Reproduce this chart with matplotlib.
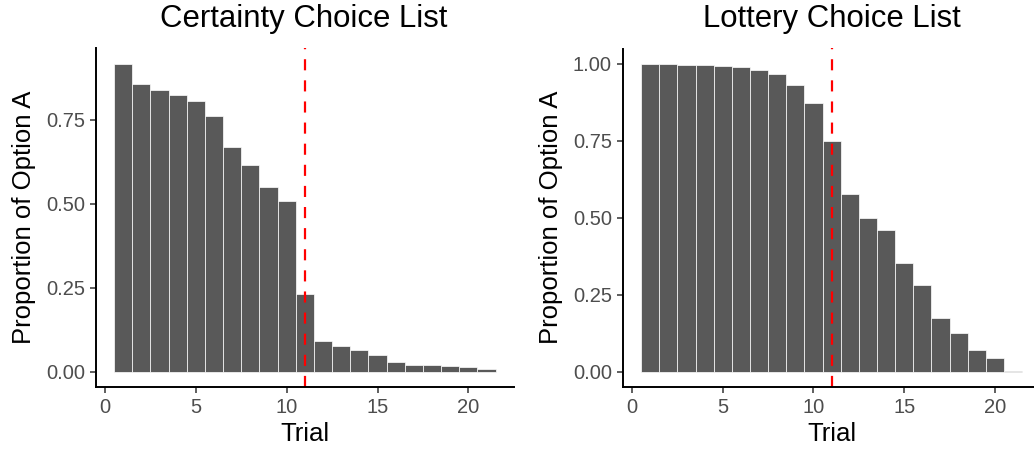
import matplotlib
matplotlib.use("Agg")
import matplotlib.pyplot as plt

plt.rcParams['font.family'] = ['Liberation Sans', 'DejaVu Sans']

trials = list(range(1, 22))
certainty = [0.916, 0.856, 0.838, 0.823, 0.806, 0.761, 0.669, 0.615, 0.551, 0.508,
             0.231, 0.091, 0.076, 0.064, 0.050, 0.029, 0.020, 0.020, 0.017, 0.014, 0.008]
lottery = [1.000, 1.000, 0.997, 0.997, 0.993, 0.990, 0.980, 0.967, 0.932, 0.873,
           0.750, 0.577, 0.499, 0.460, 0.353, 0.282, 0.174, 0.126, 0.070, 0.044, 0.002]
titles = ["Certainty Choice List", "Lottery Choice List"]
switch_trial = 11
xticks = [0, 5, 10, 15, 20]
yticks = [0.0, 0.25, 0.5, 0.75, 1.0]

W, H = 1034, 451
fig = plt.figure(figsize=(W / 100, H / 100), dpi=100)

# panel rectangles in pixels: left, right, top, bottom
panels = [(96, 513.7, 48.5, 387), (623, 1040.3, 48.5, 387)]
title_x = [304, 832]

for (l, r, t, b), vals, title, tx in zip(panels, [certainty, lottery], titles, title_x):
    ax = fig.add_axes([l / W, (H - b) / H, (r - l) / W, (b - t) / H])
    ax.bar(trials, vals, width=1.0, color='#595959', edgecolor='white', linewidth=0.5)
    ax.axvline(switch_trial, color='red', linewidth=1.6, linestyle=(0, (5, 4.5)))
    ymax = max(vals)
    ax.set_xlim(0.55 - 0.05 * 20.9, 21.45 + 0.05 * 20.9)
    ax.set_ylim(-0.05 * ymax, 1.05 * ymax)
    ax.set_xticks(xticks)
    ax.set_yticks([v for v in yticks if v <= ymax * 1.05])
    ax.set_yticklabels([f"{v:.2f}" for v in ax.get_yticks()])
    for s in ['top', 'right']:
        ax.spines[s].set_visible(False)
    for s in ['left', 'bottom']:
        ax.spines[s].set_linewidth(1.4)
    ax.tick_params(labelsize=14.5, labelcolor='#4D4D4D', length=4.5, width=1.1,
                   color='#333333', pad=3.5)
    ax.set_xlabel("Trial", fontsize=18.5, labelpad=3.5)
    ax.set_ylabel("Proportion of Option A", fontsize=18.5, labelpad=7)
    fig.text(tx / W, 1 - 19 / H, title, fontsize=22.4, ha='center', va='center')

fig.savefig("out.png", dpi=100)
